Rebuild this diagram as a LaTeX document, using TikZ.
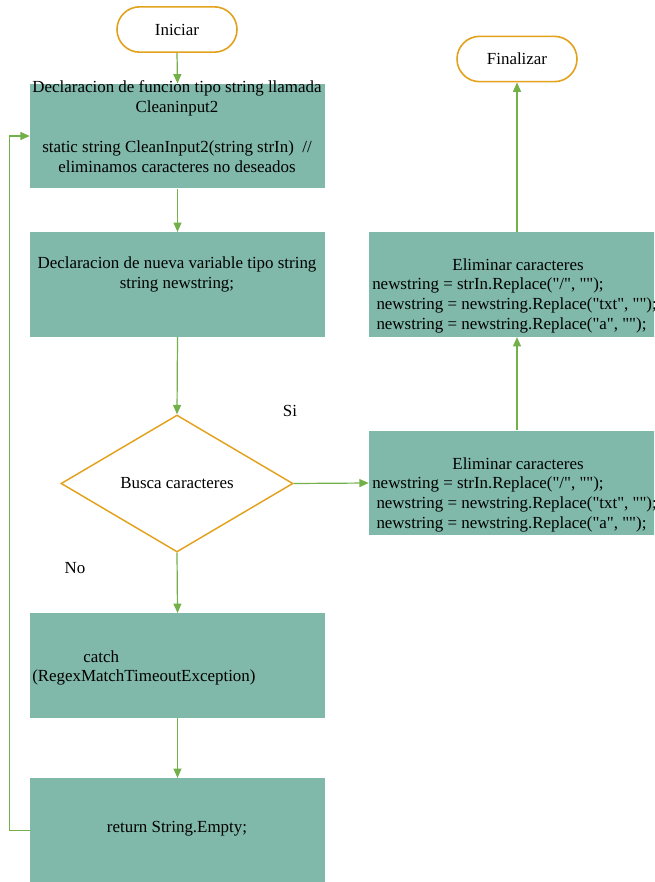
\documentclass[tikz,border=0pt]{standalone}
\usepackage{fontspec}
\setmainfont{Liberation Serif}[Ligatures=TeXOff]
\usetikzlibrary{arrows.meta,shapes.geometric,shapes.misc}
\definecolor{boxfill}{HTML}{80B8A9}
\definecolor{termline}{HTML}{E3A21D}
\definecolor{connline}{HTML}{74B04A}
% straight double quote
\newcommand{\dq}{\symbol{34}}
\tikzset{
  procbox/.style={rectangle, fill=boxfill, draw=none, inner sep=0pt,
    minimum width=221.25pt, minimum height=78.5pt},
  terminal/.style={rounded rectangle, draw=termline, line width=1.2pt, fill=white,
    inner sep=0pt, minimum width=90pt, minimum height=34pt},
  decision/.style={diamond, draw=termline, line width=1.1pt, fill=white, inner sep=0pt,
    minimum width=174pt, minimum height=102.75pt},
  txt/.style={inner sep=0pt, align=center, font=\fontsize{12.7}{15}\selectfont},
  conn/.style={draw=connline, line width=0.9pt, -{Triangle[length=7pt,width=6pt]}},
}
\begin{document}
\begin{tikzpicture}[x=0.75pt,y=-0.75pt]
\clip (0,0) rectangle (654,882);
\fill[white] (0,0) rectangle (654,882);

% terminals
\node[terminal] (start) at (177,29.5) {};
\node[txt] at (start.center) {Iniciar};
\node[terminal] (stop) at (517,59) {};
\node[txt] at (stop.center) {Finalizar};

% process boxes
\node[procbox] (decl) at (177.5,136) {};
\node[txt] at (177,126.5) {Declaracion de funcion tipo string llamada\\Cleaninput2\\[15pt]
  static string CleanInput2(string strIn)~ //\\eliminamos caracteres no deseados};

\node[procbox] (var) at (177.5,284.5) {};
\node[txt] at (177,274.5) {Declaracion de nueva variable tipo string\\string newstring;};

\node[decision] (test) at (177,483.5) {};
\node[txt] at (test.center) {Busca caracteres};

\node[procbox] (catch) at (177.5,665.5) {};
\node[txt, anchor=west] at (83,657) {catch};
\node[txt, anchor=west] at (32,677) {(RegexMatchTimeoutException)};

\node[procbox] (ret) at (177.5,830.5) {};
\node[txt] at (177,829) {return String.Empty;};

\node[procbox, minimum width=222pt] (elimA) at (517,483) {};
\node[txt] at (518,464) {Eliminar caracteres};
\node[txt, anchor=north west, align=left] at (372,476)
  {newstring = strIn.Replace(\dq/\dq, \dq\dq);\\\ newstring = newstring.Replace(\dq txt\dq, \dq\dq);\\\ newstring = newstring.Replace(\dq a\dq, \dq\dq);};

\node[procbox, minimum width=222pt] (elimB) at (517,284.5) {};
\node[txt] at (518,265) {Eliminar caracteres};
\node[txt, anchor=north west, align=left] at (372,277)
  {newstring = strIn.Replace(\dq/\dq, \dq\dq);\\\ newstring = newstring.Replace(\dq txt\dq, \dq\dq);\\\ newstring = newstring.Replace(\dq a\dq, \dq\dq);};

% branch labels
\node[txt] (si) at (290,411) {Si};
\node[txt] (no) at (75,568) {No};

% connectors
\draw[conn] (start.south) -- (decl.north);
\draw[conn] (decl.south) -- (var.north);
\draw[conn] (var.south) -- (test.north);
\draw[conn] (test.east) -- (elimA.west);
\draw[conn] (test.south) -- (catch.north);
\draw[conn] (catch.south) -- (ret.north);
\draw[conn] (elimA.north) -- (elimB.south);
\draw[conn] (elimB.north) -- (stop.south);
\draw[conn] (ret.west) -- ++(-20,0) |- (decl.west);
\end{tikzpicture}
\end{document}
